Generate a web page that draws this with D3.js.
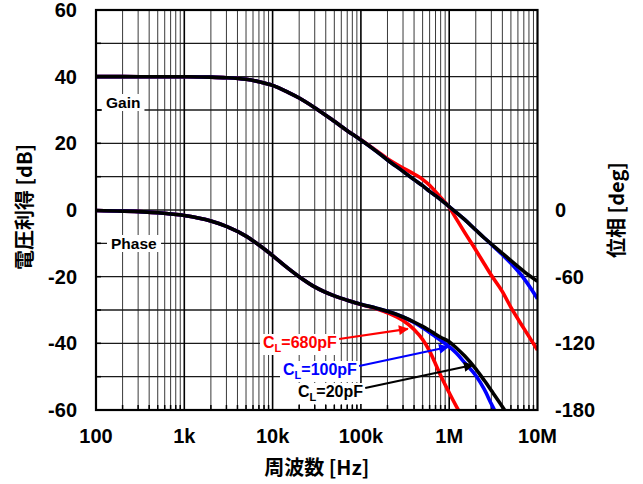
<!DOCTYPE html>
<html>
<head>
<meta charset="utf-8">
<script src="https://cdn.jsdelivr.net/npm/d3@7/dist/d3.min.js"></script>
<style>
  html, body { margin: 0; padding: 0; background: #fff; }
  svg { display: block; }
  text { font-family: "Liberation Sans", Arial, sans-serif; font-weight: bold; }
  .cjk { font-family: "Noto Sans CJK JP", "Liberation Sans", sans-serif; font-weight: bold; }
</style>
</head>
<body>
<svg id="chart" width="643" height="484"></svg>
<script>
// ---------- data ----------
const freqs = [100, 200, 500, 1e3, 2e3, 3e3, 5e3, 7e3, 1e4, 1.5e4, 2e4, 3e4, 5e4, 7e4,
  1e5, 1.5e5, 2e5, 3e5, 4e5, 5e5, 6e5, 7e5, 8e5, 1e6, 1.2e6, 1.5e6, 2e6, 2.5e6, 3e6,
  4e6, 5e6, 7e6, 1e7];

// gain [dB]
const gain20 = [40, 40, 39.99, 39.96, 39.86, 39.69, 39.2, 38.5, 37.4, 35.3, 33.6, 30.7, 26.6, 23.8,
  21.0, 17.6, 15.0, 11.6, 9.1, 7.3, 5.6, 4.3, 3.1, 1.0, -0.7, -2.9, -6.0, -8.4, -10.2,
  -13.0, -15.2, -18.4, -21.4];
const gain100 = [40, 40, 39.99, 39.96, 39.86, 39.69, 39.2, 38.5, 37.4, 35.3, 33.6, 30.7, 26.6, 23.8,
  21.0, 17.6, 15.0, 11.6, 9.1, 7.3, 5.6, 4.3, 3.1, 1.0, -0.7, -2.9, -6.0, -8.4, -10.3,
  -13.4, -16.0, -20.5, -26.6];
const gain680 = [40, 40, 39.99, 39.96, 39.86, 39.69, 39.2, 38.5, 37.4, 35.3, 33.6, 30.7, 26.6, 23.8,
  21.1, 17.8, 15.4, 12.6, 10.8, 9.2, 7.4, 5.5, 3.8, 0.8, -2.6, -6.8, -12.0, -16.2, -19.6,
  -24.5, -29.2, -35.5, -42.0];

// phase [deg]
const phase20 = [-0.5, -1.0, -2.5, -5.0, -9.9, -14.7, -23.5, -31.5, -41.0, -52.5, -60.0, -69.2, -77.3, -81.2,
  -84.8, -88.4, -91.2, -96.3, -100.8, -104.8, -108.5, -111.8, -114.5, -118.5, -124.0, -131.5, -143, -153.5, -162.5,
  -177, -189, -205, -220];
const phase100 = [-0.5, -1.0, -2.5, -5.0, -9.9, -14.7, -23.5, -31.5, -41.0, -52.5, -60.0, -69.2, -77.3, -81.2,
  -84.8, -88.4, -91.2, -96.3, -101.3, -106, -110.2, -114, -117.2, -123, -128.8, -137.5, -149, -161.5, -174.5,
  -193, -205, -220, -235];
const phase680 = [-0.5, -1.0, -2.5, -5.0, -9.9, -14.7, -23.5, -31.5, -41.0, -52.5, -60.0, -69.2, -77.3, -81.2,
  -85.0, -88.8, -92.5, -99.5, -107.5, -116.5, -127, -138.5, -149, -164.5, -176.5, -190, -205, -212, -220,
  -230, -238, -250, -260];

const xTickValues = [1e2, 1e3, 1e4, 1e5, 1e6, 1e7];
const xTickLabels = ["100", "1k", "10k", "100k", "1M", "10M"];
const gainTicks = [60, 40, 20, 0, -20, -40, -60];
const phaseTicks = [0, -60, -120, -180];

const seriesNames = ["CL=680pF", "CL=100pF", "CL=20pF"];
const seriesColors = ["#ff0000", "#0000ff", "#000000"];
const seriesLoads = ["680pF", "100pF", "20pF"];
// annotation arrow tips in data units [frequency, phase deg]
const arrowTips = [[3.4e5, -107], [9.7e5, -123.3], [1.86e6, -139.5]];

// ---------- layout ----------
const L = 96, R = 537.5, T = 10, B = 410;
const svg = d3.select("#chart");
const x = d3.scaleLog().domain([1e2, 1e7]).range([L, R]);
const yG = d3.scaleLinear().domain([-60, 60]).range([B, T]);
const yP = d3.scaleLinear().domain([-180, 180]).range([B, T]);

// clip
svg.append("defs").append("clipPath").attr("id", "plotclip")
  .append("rect").attr("x", L).attr("y", T).attr("width", R - L).attr("height", B - T);

// arrow markers
const defs = svg.select("defs");
seriesColors.forEach((c, i) => {
  defs.append("marker").attr("id", "arr" + i)
    .attr("viewBox", "0 0 10 10").attr("refX", 9).attr("refY", 5)
    .attr("markerWidth", 5).attr("markerHeight", 4.5).attr("markerUnits", "strokeWidth")
    .attr("orient", "auto")
    .append("path").attr("d", "M0,0 L10,5 L0,10 Z").attr("fill", c);
});

// grid
const grid = svg.append("g");
const minor = [];
for (let d = 100; d < 1e7; d *= 10) for (let k = 2; k <= 9; k++) minor.push(k * d);
grid.selectAll("line.minor").data(minor).enter().append("line")
  .attr("x1", d => x(d)).attr("x2", d => x(d)).attr("y1", T).attr("y2", B)
  .attr("stroke", "#3a3a3a").attr("stroke-width", 1);
const hgrid = d3.range(-50, 60, 10);
grid.selectAll("line.h").data(hgrid).enter().append("line")
  .attr("x1", L).attr("x2", R).attr("y1", d => yG(d)).attr("y2", d => yG(d))
  .attr("stroke", "#1a1a1a").attr("stroke-width", 1.3);
grid.selectAll("line.major").data(xTickValues.slice(1, -1)).enter().append("line")
  .attr("x1", d => x(d)).attr("x2", d => x(d)).attr("y1", T).attr("y2", B)
  .attr("stroke", "#000").attr("stroke-width", 1.6);

// small inward ticks
grid.selectAll("line.bt").data(minor).enter().append("line")
  .attr("x1", d => x(d)).attr("x2", d => x(d)).attr("y1", B - 5).attr("y2", B)
  .attr("stroke", "#000").attr("stroke-width", 1.5);
grid.selectAll("line.lt").data(hgrid).enter().append("line")
  .attr("x1", L).attr("x2", L + 5).attr("y1", d => yG(d)).attr("y2", d => yG(d))
  .attr("stroke", "#000").attr("stroke-width", 1.5);

// Gain / Phase labels with white background
function boxedLabel(txt, xx, yy, size) {
  const g = svg.append("g");
  const t = g.append("text").attr("x", xx).attr("y", yy).attr("font-size", size).attr("fill", "#000").text(txt);
  const bb = t.node().getBBox();
  g.insert("rect", "text").attr("x", bb.x - 4).attr("y", bb.y).attr("width", bb.width + 8).attr("height", bb.height)
    .attr("fill", "#fff");
  return g;
}
boxedLabel("Gain", 106, 108, 15.5);
boxedLabel("Phase", 111, 249, 15.5);

// curves
const plot = svg.append("g").attr("clip-path", "url(#plotclip)");
const gainSeries = [gain680, gain100, gain20];
const phaseSeries = [phase680, phase100, phase20];
const lineG = d3.line().x((d, i) => x(freqs[i])).y(d => yG(d)).curve(d3.curveMonotoneX);
const lineP = d3.line().x((d, i) => x(freqs[i])).y(d => yP(d)).curve(d3.curveMonotoneX);
gainSeries.forEach((s, i) => {
  plot.append("path").attr("d", lineG(s)).attr("fill", "none")
    .attr("stroke", seriesColors[i]).attr("stroke-width", 3.6).attr("stroke-linejoin", "round");
});
phaseSeries.forEach((s, i) => {
  plot.append("path").attr("d", lineP(s)).attr("fill", "none")
    .attr("stroke", seriesColors[i]).attr("stroke-width", 3.6).attr("stroke-linejoin", "round");
});

// frame
svg.append("rect").attr("x", L).attr("y", T).attr("width", R - L).attr("height", B - T)
  .attr("fill", "none").attr("stroke", "#000").attr("stroke-width", 2.2);

// annotations
const annPos = [[263, 348], [283, 375], [298, 397]];
seriesLoads.forEach((load, i) => {
  const g = svg.append("g");
  const t = g.append("text").attr("x", annPos[i][0]).attr("y", annPos[i][1])
    .attr("font-size", 16).attr("fill", seriesColors[i]);
  t.append("tspan").text("C");
  t.append("tspan").attr("font-size", 11).attr("dy", 4).text("L");
  t.append("tspan").attr("dy", -4).text("=" + load);
  const bb = t.node().getBBox();
  g.insert("rect", "text").attr("x", bb.x - 3).attr("y", bb.y).attr("width", bb.width + 6).attr("height", bb.height + 1)
    .attr("fill", "#fff");
  const x0 = bb.x + bb.width + 2, y0 = annPos[i][1] - 9 + (i === 0 ? 0 : 0);
  svg.append("line").attr("x1", x0).attr("y1", y0)
    .attr("x2", x(arrowTips[i][0])).attr("y2", yP(arrowTips[i][1]))
    .attr("stroke", seriesColors[i]).attr("stroke-width", 2.2)
    .attr("marker-end", "url(#arr" + i + ")");
});

// tick labels
svg.selectAll("text.xt").data(xTickValues).enter().append("text")
  .attr("x", d => x(d)).attr("y", 443).attr("text-anchor", "middle").attr("font-size", 20)
  .text((d, i) => xTickLabels[i]);
svg.selectAll("text.yl").data(gainTicks).enter().append("text")
  .attr("x", 77).attr("y", d => yG(d)).attr("dy", "0.35em").attr("text-anchor", "end").attr("font-size", 20)
  .text(d => d);
svg.selectAll("text.yr").data(phaseTicks).enter().append("text")
  .attr("x", 555).attr("y", d => yP(d)).attr("dy", "0.35em").attr("text-anchor", "start").attr("font-size", 20)
  .text(d => d);

// axis titles
svg.append("text").attr("class", "cjk").attr("x", (L + R) / 2).attr("y", 475)
  .attr("text-anchor", "middle").attr("font-size", 20).text("周波数 [Hz]");
svg.append("text").attr("class", "cjk").attr("transform", "translate(32,207) rotate(-90)")
  .attr("text-anchor", "middle").attr("font-size", 20).text("電圧利得 [dB]");
svg.append("text").attr("class", "cjk").attr("transform", "translate(624,210) rotate(-90)")
  .attr("text-anchor", "middle").attr("font-size", 20).text("位相 [deg]");
</script>
</body>
</html>
